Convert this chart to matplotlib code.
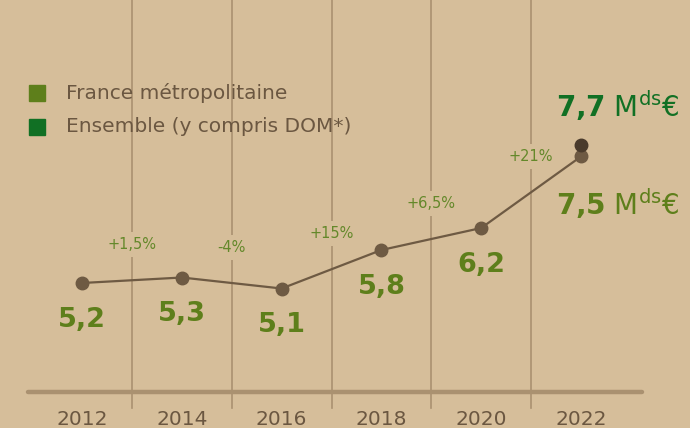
import numpy as np
import matplotlib.pyplot as plt

years = [2012, 2014, 2016, 2018, 2020, 2022]
france_metro = [5.2, 5.3, 5.1, 5.8, 6.2, 7.5]
ensemble_2022 = 7.7
changes = ["+1,5%", "-4%", "+15%", "+6,5%", "+21%"]
legend_labels = ["France métropolitaine", "Ensemble (y compris DOM*)"]

bg = "#d6be9a"
brown = "#6e5a43"
dark_brown = "#4a3b2c"
grid_col = "#aa9170"
olive = "#5e7f1b"
pct_col = "#64882a"
dark_green = "#117024"
txt_col = "#6b5741"
font = "DejaVu Sans"


def fmt(v):
    return f"{v:.1f}".replace(".", ",")


def money(v):
    return (r"$\mathbf{" + fmt(v).replace(",", "{,}") + r"}$ "
            r"$\mathrm{M}^{\mathrm{ds}}$€")


fig = plt.figure(figsize=(6.9, 4.28), dpi=100)
fig.patch.set_facecolor(bg)
ax = fig.add_axes([0, 0, 1, 1])
ax.set_facecolor(bg)
ax.set_xlim(2010.357, 2024.184)
ax.set_ylim(2.564, 10.345)
ax.axis("off")

# separators between years
base_y = 3.22
for a, b in zip(years[:-1], years[1:]):
    ax.plot([(a + b) / 2] * 2, [2.93, 10.4], color=grid_col, lw=1.2, zorder=1)
ax.plot([years[0] - 1.08, years[-1] + 1.22], [base_y, base_y],
        color=grid_col, lw=3.2, solid_capstyle="round", zorder=2)

for y in years:
    ax.text(y, 2.72, str(y), ha="center", va="center", fontsize=14.5,
            color=txt_col, family=font)

# main series
ax.plot(years, france_metro, color=brown, lw=1.6, zorder=3)
ax.plot(years, france_metro, "o", color=brown, ms=9, zorder=4)
ax.plot(years[-1], ensemble_2022, "o", color=dark_brown, ms=9, zorder=4)

for x, v in zip(years[:-1], france_metro[:-1]):
    ax.text(x, v - 0.67, fmt(v), ha="center", va="center", fontsize=19.5,
            fontweight="bold", color=olive, family=font, zorder=5)

for i, c in enumerate(changes):
    xm = (years[i] + years[i + 1]) / 2
    ym = (france_metro[i] + france_metro[i + 1]) / 2 + 0.65
    ax.text(xm, ym, c, ha="center", va="center", fontsize=10.5, color=pct_col,
            family=font, zorder=5,
            bbox=dict(boxstyle="square,pad=0.35", fc=bg, ec="none"))

# final labels
ax.text(years[-1] - 0.5, france_metro[-1] - 0.85, money(france_metro[-1]),
        ha="left", va="center", fontsize=20, color=olive, family=font)
ax.text(years[-1] - 0.5, ensemble_2022 + 0.73, money(ensemble_2022),
        ha="left", va="center", fontsize=20, color=dark_green, family=font)

# legend
for i, (lab, col) in enumerate(zip(legend_labels, [olive, dark_green])):
    yy = 1 - (93 + 34 * i) / 428
    ax.plot(37 / 690, yy, "s", ms=11, color=col, transform=ax.transAxes)
    ax.text(66 / 690, yy, lab, ha="left", va="center", fontsize=14.5,
            color=txt_col, family=font, transform=ax.transAxes)

fig.savefig("out.png", dpi=100, facecolor=bg)
